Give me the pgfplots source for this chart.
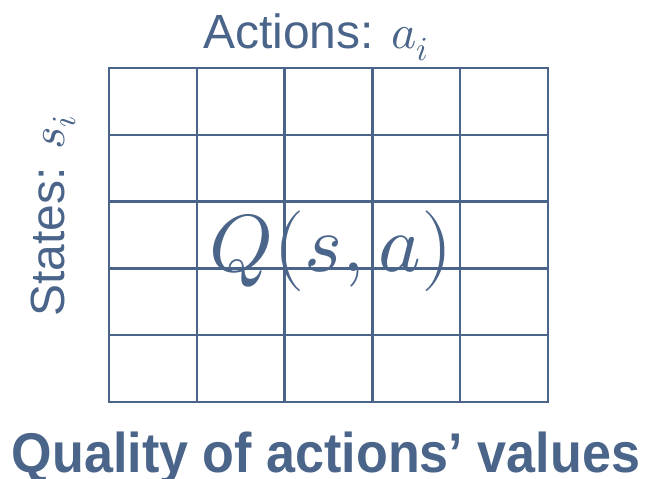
\documentclass[border=0pt]{standalone}
\usepackage{fontspec}
\usepackage{unicode-math}
\setmainfont{Liberation Sans}
\setmathfont{Latin Modern Math}
\usepackage{pgfplots}
\pgfplotsset{compat=1.18}
\definecolor{slate}{HTML}{4A6589}

\begin{document}
\begin{tikzpicture}
\useasboundingbox (0,0) rectangle (652bp,479bp);
\begin{axis}[
  at={(109bp,77bp)}, anchor=south west,
  scale only axis,
  width=439bp, height=334bp,
  xmin=0, xmax=5, ymin=0, ymax=5,
  xtick={0,...,5}, ytick={0,...,5},
  xticklabels={}, yticklabels={},
  major tick length=0pt,
  grid=major,
  grid style={slate, line width=2.5bp},
  axis line style={slate, line width=2.5bp},
]
\addplot[draw=none] coordinates {(0,0) (5,5)};
\end{axis}
% labels
\node[anchor=base, text=slate, font=\fontsize{48bp}{58bp}\selectfont]
  at (316bp,430bp) {Actions: $a_i$};
\node[anchor=base, rotate=90, text=slate, font=\fontsize{48bp}{58bp}\selectfont]
  at (64bp,263bp) {States: $s_i$};
\node[anchor=base, text=slate, font=\fontsize{81bp}{90bp}\selectfont]
  at (331bp,207bp) {$Q(s,a)$};
\node[anchor=base, text=slate, font=\bfseries\fontsize{56bp}{66bp}\selectfont, xscale=0.93]
  at (326bp,7bp) {Quality of actions’ values};
\end{tikzpicture}
\end{document}
